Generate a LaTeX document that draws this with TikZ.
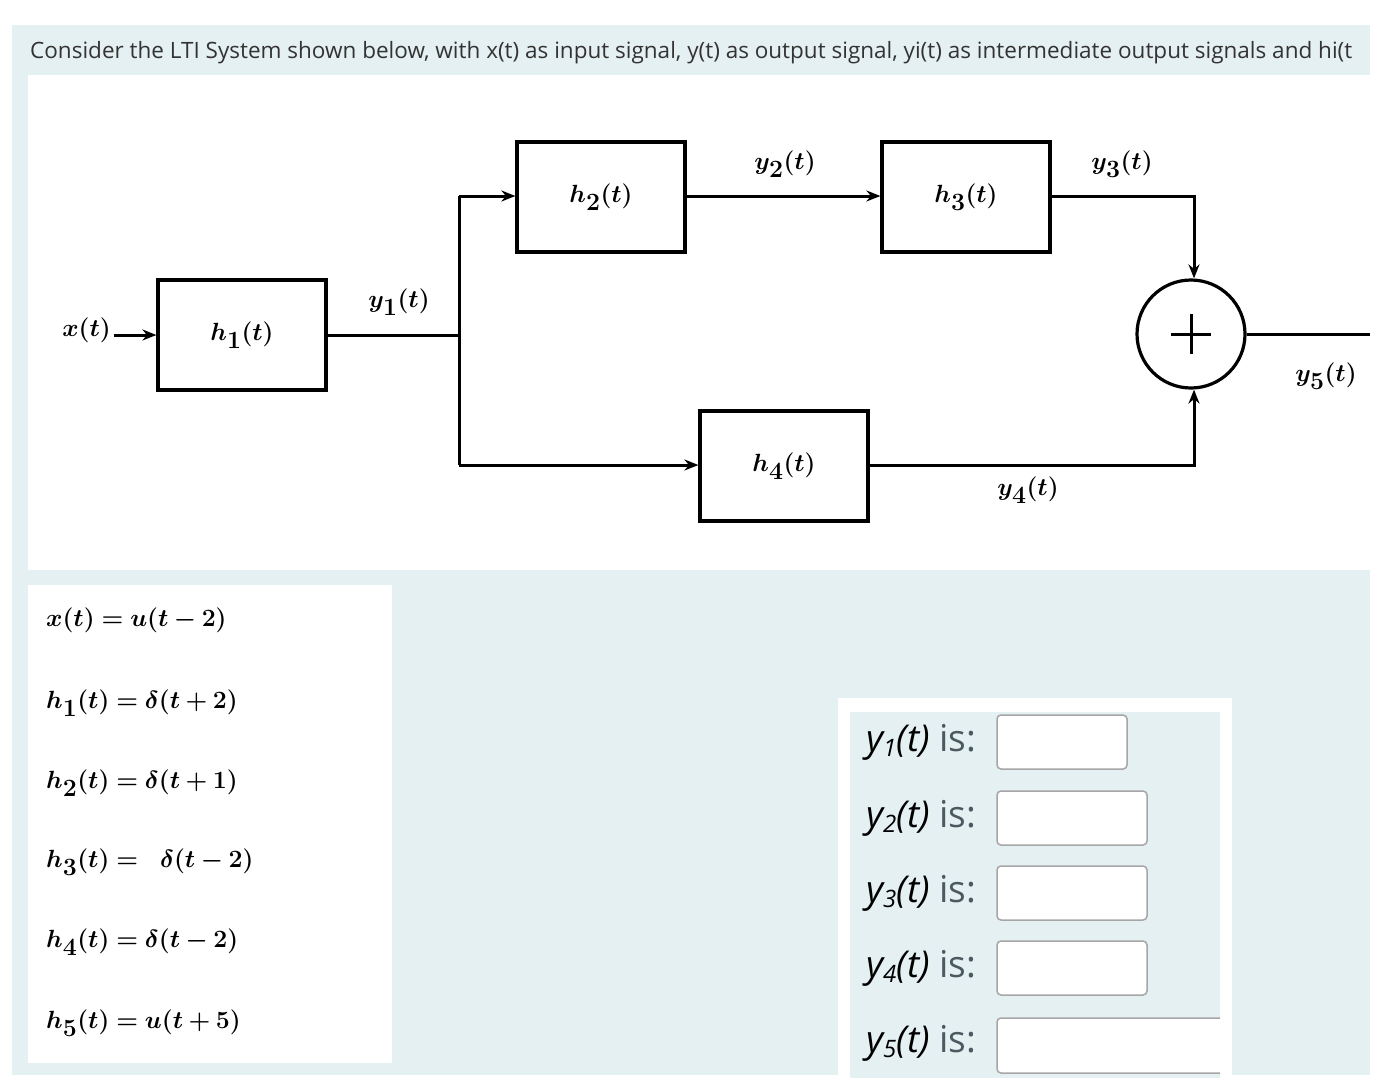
\documentclass[tikz,border=0pt]{standalone}
\usepackage{bm}
\usepackage{fontspec}
\setmainfont{Latin Modern Roman}
\newfontfamily\osans{Open Sans}
\usetikzlibrary{arrows.meta,calc}
\definecolor{panel}{HTML}{E5F0F3}
\definecolor{txt}{HTML}{333333}
\definecolor{isc}{HTML}{4A5A60}
\newcommand{\bmm}[1]{$\bm{#1}$}
\begin{document}
\begin{tikzpicture}[x=1pt,y=-1pt,
  blk/.style={draw,line width=3.2pt,minimum width=168pt,minimum height=110pt,inner sep=0pt},
  wire/.style={line width=3pt},
  arr/.style={wire,-{Stealth[length=14pt,width=11pt]}},
  lab/.style={font=\fontsize{40}{44}\selectfont},
  eq/.style={anchor=west,inner sep=0pt,font=\fontsize{50}{54}\selectfont},
  ans/.style={anchor=west,inner sep=0pt,font=\osans\fontsize{37}{40}\selectfont},
  inp/.style={draw=gray!70,line width=1.5pt,rounded corners=4pt,fill=white}]
\useasboundingbox (0,0) rectangle (1400,1080);
\fill[white] (0,0) rectangle (1400,1080);
\fill[panel] (12,25) rectangle (1370,1075);
\fill[white] (28,75) rectangle (1370,570);
\begin{scope}
\clip (12,25) rectangle (1370,75);
\node[anchor=base west,inner sep=0pt,text=txt,font=\osans\fontsize{22.5}{25}\selectfont] (title) at (30,58) {Consider the LTI System shown below, with x(t) as input signal, y(t) as output signal, yi(t) as intermediate output signals and hi(t};
\end{scope}
% blocks
\node[blk,lab] (h1) at (242,335) {\bmm{h_1(t)}};
\node[blk,lab] (h2) at (601,197) {\bmm{h_2(t)}};
\node[blk,lab] (h3) at (966,197) {\bmm{h_3(t)}};
\node[blk,lab] (h4) at (784,466) {\bmm{h_4(t)}};
\node[draw,circle,line width=3.2pt,minimum size=108pt,inner sep=0pt] (s) at (1191,334) {};
\draw[line width=3pt] ($(s)+(-20,0)$) -- ($(s)+(20,0)$) ($(s)+(0,-20)$) -- ($(s)+(0,20)$);
\node[lab,anchor=east,inner sep=0pt] (x) at (111,330) {\bmm{x(t)}};
\coordinate (j) at (459,335);
\coordinate (jt) at (459,196);
\coordinate (jb) at (459,465);
\coordinate (c3) at (1194,196);
\coordinate (c4) at (1194,465);
\coordinate (out) at (1370,334);
\draw[arr] ($(x.east)+(3,5)$) -- (h1.west);
\draw[wire] (h1.east) -- (j);
\draw[wire] (jt) -- (jb);
\draw[arr] (jt) -- (h2.west |- jt);
\draw[arr] (jb) -- (h4.west |- jb);
\draw[arr] (h2.east |- jt) -- (h3.west |- jt);
\draw[arr] (h3.east |- c3) -- (c3) -- (s.north -| c3);
\draw[arr] (h4.east |- c4) -- (c4) -- (s.south -| c4);
\draw[wire] (s.east) -- (out);
\node[lab] (l1) at (399,302) {\bmm{y_1(t)}};
\node[lab] (l2) at (785,164) {\bmm{y_2(t)}};
\node[lab] (l3) at (1122,164) {\bmm{y_3(t)}};
\node[lab] (l4) at (1028,490) {\bmm{y_4(t)}};
\node[lab] (l5) at (1326,376) {\bmm{y_5(t)}};
% equations
\fill[white] (28,585) rectangle (392,1063);
\node[eq] (e0) at (46,620) {\bmm{x(t)=u(t-2)}};
\node[eq] (e1) at (46,703) {\bmm{h_1(t)=\delta(t+2)}};
\node[eq] (e2) at (46,783) {\bmm{h_2(t)=\delta(t+1)}};
\node[eq] (e3) at (46,862) {\bmm{h_3(t)=\ \delta(t-2)}};
\node[eq] (e4) at (46,942) {\bmm{h_4(t)=\delta(t-2)}};
\node[eq] (e5) at (46,1023) {\bmm{h_5(t)=u(t+5)}};
% answers
\fill[white] (838,698) rectangle (1232,1078);
\fill[panel] (850,712) rectangle (1220,1078);
\foreach \i/\y/\r in {1/742/1127,2/818/1147,3/893/1147,4/968/1147}{
  \node[ans] (a\i) at (866,\y) {\itshape y\raisebox{-0.15em}{\fontsize{24}{26}\selectfont\i}(t) \upshape\color{isc}is:};
  \draw[inp] (997,\y-27) rectangle (\r,\y+27);
}
\node[ans] (a5) at (866,1043) {\itshape y\raisebox{-0.15em}{\fontsize{24}{26}\selectfont 5}(t) \upshape\color{isc}is:};
\begin{scope}
\clip (990,1000) rectangle (1220,1080);
\draw[inp] (997,1018) rectangle (1260,1073);
\end{scope}
\end{tikzpicture}
\end{document}
